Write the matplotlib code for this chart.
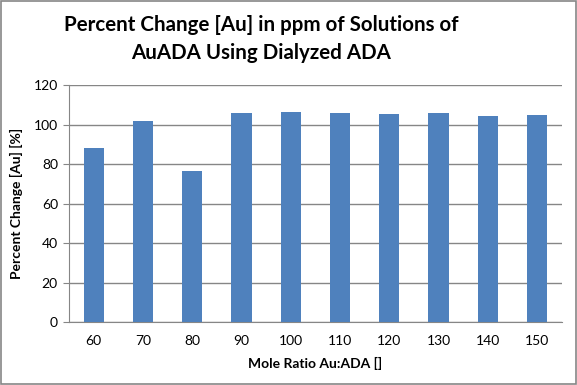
import matplotlib
matplotlib.use("Agg")
import matplotlib.pyplot as plt
from matplotlib.patches import Rectangle

ratios = ["60", "70", "80", "90", "100", "110", "120", "130", "140", "150"]
percent_change = [88.3, 101.9, 76.6, 106.0, 106.5, 106.0, 105.5, 106.0, 104.5, 105.0]

plt.rcParams["font.family"] = ["Lato", "DejaVu Sans"]

fig = plt.figure(figsize=(5.77, 3.85), dpi=100)
ax = fig.add_axes([0.1196, 0.1629, 0.8539, 0.6155])

x = range(len(ratios))
ax.bar(x, percent_change, width=0.41, color="#4F81BD", zorder=3)

ax.set_xlim(-0.5, len(ratios) - 0.5)
ax.set_ylim(0, 120)
ax.set_yticks(range(0, 121, 20))
ax.set_xticks(list(x), ratios)
ax.grid(axis="y", color="#868686", linewidth=1.0, zorder=0)

for side in ("top", "right"):
    ax.spines[side].set_visible(False)
ax.spines["left"].set_color("#868686")
ax.spines["bottom"].set_color("#868686")
ax.tick_params(axis="y", length=4, color="#868686", labelsize=10, pad=4)
ax.tick_params(axis="x", length=0, labelsize=10, pad=9)

ax.set_xlabel("Mole Ratio Au:ADA []", fontsize=10, fontweight="bold", labelpad=7)
ax.set_ylabel("Percent Change [Au] [%]", fontsize=10, fontweight="bold", labelpad=8)

fig.text(261 / 577, 1 - 39 / 385,
         "Percent Change [Au] in ppm of Solutions of\nAuADA Using Dialyzed ADA",
         ha="center", va="center", fontsize=14.8, fontweight="bold",
         linespacing=1.5)

fig.patches.append(Rectangle((0.001, 0.002), 0.997, 0.996, transform=fig.transFigure,
                             fill=False, edgecolor="#868686", linewidth=1.2))

fig.savefig("out.png", dpi=100)
